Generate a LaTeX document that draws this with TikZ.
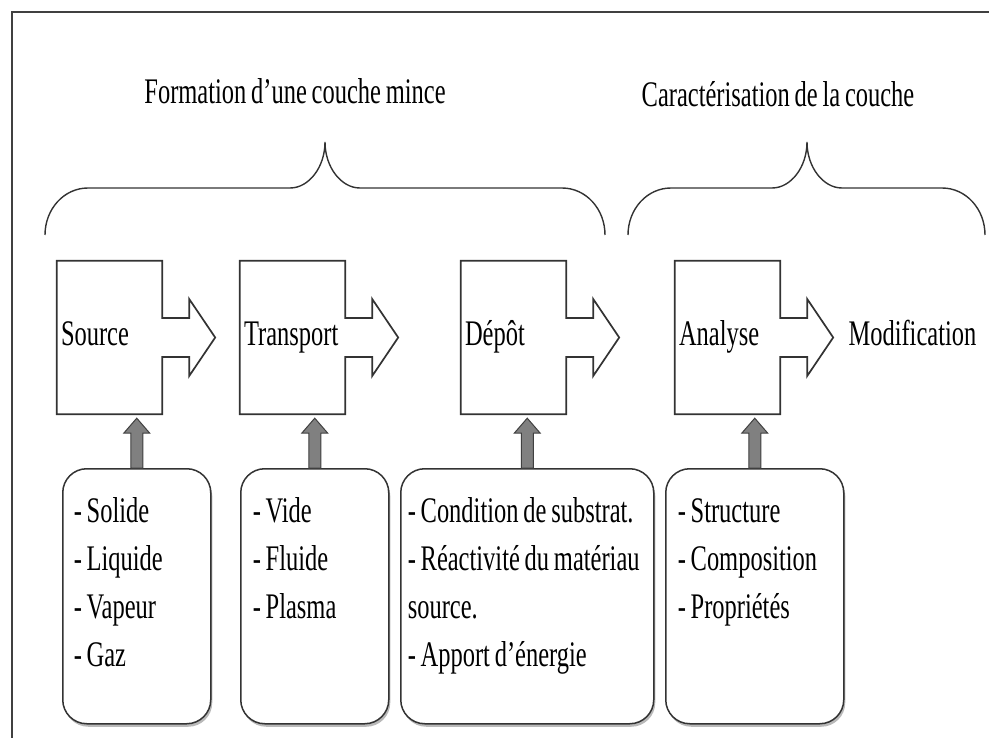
\documentclass[tikz,border=0pt]{standalone}
\usepackage{fontspec}
\setmainfont{Liberation Serif}[FakeStretch=0.68, WordSpace=0.78]
\usetikzlibrary{calc,shadows}
\tikzset{
  stage/.style    = {shape=rectangle, minimum width=105pt, minimum height=153pt,
                     inner xsep=4pt, text width=97pt, align=flush left,
                     text height=25pt, text depth=9pt},
  stageline/.style = {draw=black!80, line width=1.7pt, line join=miter},
  listbox/.style  = {shape=rectangle, rounded corners=24pt, draw=black!80,
                     line width=1.5pt, fill=white, anchor=north west, align=flush left,
                     inner ysep=29pt, text height=25pt, text depth=172pt,
                     drop shadow={shadow xshift=1.5pt, shadow yshift=-3pt, fill=black!55}},
  feed/.style     = {draw=black!75, fill=black!50, line width=1pt},
  title/.style    = {anchor=base},
  frame/.style    = {draw=black!75, line width=2pt}
}

\begin{document}
\begin{tikzpicture}
  [
    x = 1pt, y = -1pt,
    every node/.style = {font=\fontsize{36}{48}\selectfont}
  ]
  \useasboundingbox (0,0) rectangle (989,738);
  \draw[frame] (12,738) -- (12,12) -- (989,12);

  % titles and braces
  \node [title] (tform) at (295,104) {Formation d’une couche mince};
  \node [title] (tcar)  at (778,107) {Caractérisation de la couche};
  \foreach \a/\m/\b in {45/325/605, 628/807/985}
    \draw[stageline, line width=1.4pt]
      (\a,235) .. controls (\a,209) and (\a+19,188) .. (\a+43,188)
      -- (\m-35,188) .. controls (\m-16,188) and (\m,167) .. (\m,142)
      .. controls (\m,167) and (\m+16,188) .. (\m+35,188)
      -- (\b-43,188) .. controls (\b-19,188) and (\b,209) .. (\b,235);

  % process steps
  \node [stage] (src) at (109.5,337.5) {Source};
  \node [stage] (trp) at (292.5,337.5) {Transport};
  \node [stage] (dep) at (513.5,337.5) {Dépôt};
  \node [stage] (ana) at (727.5,337.5) {Analyse};
  \node [anchor=base west] (mod) at (845,346) {Modification};
  \foreach \s in {src,trp,dep,ana}
    \draw[stageline] (\s.north west) -- (\s.north east) -- ($(\s.east)+(0,-19.5)$)
      -- ++(27,0) -- ++(0,-19) -- ($(\s.east)+(53,0)$) -- ($(\s.east)+(27,38.5)$)
      -- ++(0,-19) -- ($(\s.east)+(0,19.5)$) -- (\s.south east) -- (\s.south west) -- cycle;

  % parameters
  \node [listbox, text width=126pt, inner xsep=11pt] (lsrc) at (62,468)
    {- Solide\\- Liquide\\- Vapeur\\- Gaz};
  \node [listbox, text width=124pt, inner xsep=12pt] (ltrp) at (240,468)
    {- Vide\\- Fluide\\- Plasma};
  \node [listbox, text width=239pt, inner xsep=7pt] (ldep) at (400,468)
    {- Condition de substrat.\\- Réactivité du matériau\\source.\\- Apport d’énergie};
  \node [listbox, text width=154pt, inner xsep=12pt] (lana) at (665,468)
    {- Structure\\- Composition\\- Propriétés};
  \foreach \l/\s in {lsrc/src, ltrp/trp, ldep/dep, lana/ana}
    \draw[feed] ($(\l.north)+(-6,0)$) -- ($(\l.north |- \s.south)+(-6,19)$) -- ++(-7,0)
      -- ($(\l.north |- \s.south)+(0,4)$) -- ($(\l.north |- \s.south)+(13,19)$)
      -- ++(-7,0) -- ($(\l.north)+(6,0)$) -- cycle;
\end{tikzpicture}
\end{document}
